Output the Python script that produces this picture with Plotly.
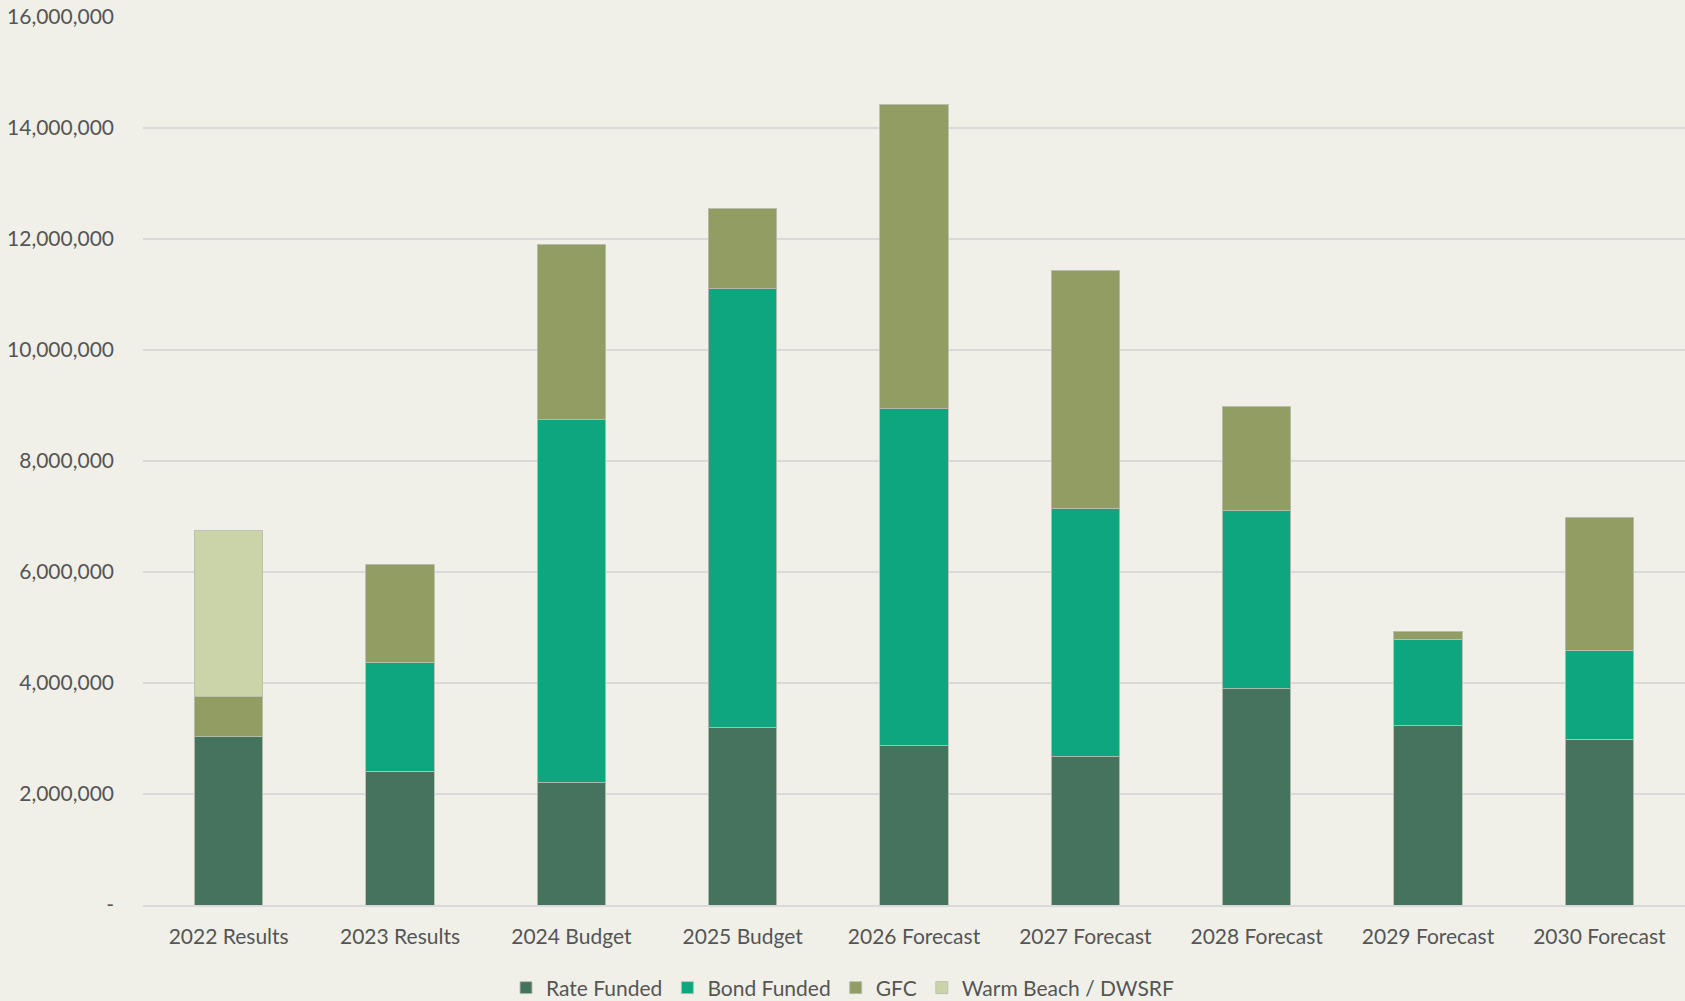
import plotly.graph_objects as go

categories = ["2022 Results", "2023 Results", "2024 Budget", "2025 Budget", "2026 Forecast",
              "2027 Forecast", "2028 Forecast", "2029 Forecast", "2030 Forecast"]
rate_funded = [3030000, 2410000, 2200000, 3190000, 2870000, 2670000, 3900000, 3230000, 2990000]
bond_funded = [0, 1960000, 6540000, 7910000, 6070000, 4480000, 3200000, 1560000, 1600000]
gfc = [720000, 1770000, 3170000, 1450000, 5480000, 4280000, 1880000, 130000, 2400000]
warm_beach = [2990000, 0, 0, 0, 0, 0, 0, 0, 0]

tick_vals = [0, 2000000, 4000000, 6000000, 8000000, 10000000, 12000000, 14000000, 16000000]
tick_text = ["-"] + [f"{v:,}" for v in tick_vals[1:]]

series = [
    ("Rate Funded", rate_funded, "#46735E"),
    ("Bond Funded", bond_funded, "#0DA67F"),
    ("GFC", gfc, "#919D62"),
    ("Warm Beach / DWSRF", warm_beach, "#CBD3A8"),
]

FONT = "Lato, 'Open Sans', sans-serif"
TXT = "#555555"
BG = "#F0F0E9"

fig = go.Figure()
for name, vals, col in series:
    fig.add_trace(go.Bar(
        name=name, x=categories, y=vals,
        marker=dict(color=col, line=dict(color="rgba(185,190,175,0.9)", width=1)),
    ))

fig.update_layout(
    barmode="stack",
    bargap=0.6,
    width=1685, height=1001,
    paper_bgcolor=BG,
    plot_bgcolor=BG,
    margin=dict(l=143, r=0, t=17, b=96),
    font=dict(family=FONT, size=21, color=TXT),
    showlegend=True,
    legend=dict(
        orientation="h", xref="container", yref="container",
        x=0.5, xanchor="center", y=0.013, yanchor="middle",
        font=dict(family=FONT, size=21, color=TXT),
        itemwidth=30, traceorder="normal",
        bgcolor="rgba(0,0,0,0)",
    ),
    xaxis=dict(
        showgrid=False, showline=True, linecolor="#D9D9D9", linewidth=1.5,
        ticks="", tickfont=dict(family=FONT, size=21, color=TXT),
        ticklabelstandoff=12,
    ),
    yaxis=dict(
        range=[0, 16000000], tickvals=tick_vals, ticktext=tick_text,
        showgrid=True, gridcolor="#D9D9D9", gridwidth=1.5,
        zeroline=False, showline=False, ticks="",
        tickfont=dict(family=FONT, size=21, color=TXT),
        ticklabelstandoff=28,
    ),
)

fig.write_html(
    "out.html",
    config={"displayModeBar": False},
    post_script="document.body.style.margin='0';document.body.style.overflow='hidden';"
                "document.body.style.background='" + BG + "';",
)
